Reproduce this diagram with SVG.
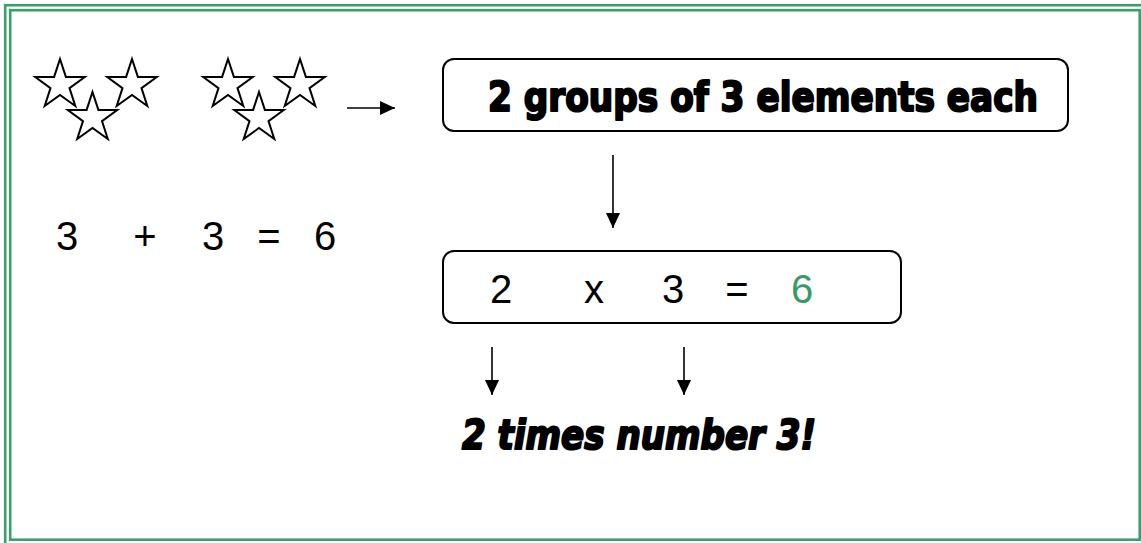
<svg xmlns="http://www.w3.org/2000/svg" width="1141" height="543" viewBox="0 0 1141 543">
<style>
.frame{fill:none;stroke:#3d9d6d;stroke-width:2.6}
.star{fill:#fff;stroke:#000;stroke-width:2;stroke-linejoin:miter}
.box{fill:#fff;stroke:#000;stroke-width:2}
.conn{stroke:#000;stroke-width:1.6;fill:none}
.math{font-family:"Liberation Sans",Arial,sans-serif;font-size:40px;fill:#000;text-anchor:middle}
.comic{font-family:"DejaVu Sans","Liberation Sans",sans-serif;font-weight:bold;font-size:40px;fill:#000;stroke:#000;stroke-width:2.2;stroke-linejoin:round}
</style>
<defs>
<path id="star" d="M0,-26 L5.88,-8.09 L24.73,-8.03 L9.51,3.09 L15.28,21.03 L0,10 L-15.28,21.03 L-9.51,3.09 L-24.73,-8.03 L-5.88,-8.09 Z"/>
<marker id="ah" markerUnits="userSpaceOnUse" markerWidth="16" markerHeight="16" viewBox="0 0 16 16" refX="15" refY="8" orient="auto">
<path d="M0,1 L15,8 L0,15 Z" fill="#000"/>
</marker>
</defs>
<rect width="1141" height="543" fill="#fff"/>
<g id="frame">
<rect class="frame" x="5.2" y="5.2" width="1145" height="545"/>
<rect class="frame" x="10.2" y="10.2" width="1129.5" height="529.5"/>
</g>
<g id="stars">
<use href="#star" class="star" x="60" y="85"/>
<use href="#star" class="star" x="132" y="85"/>
<use href="#star" class="star" x="92.5" y="118"/>
<use href="#star" class="star" x="228" y="85"/>
<use href="#star" class="star" x="300" y="85"/>
<use href="#star" class="star" x="259" y="118"/>
</g>
<g id="sum">
<text class="math" x="67" y="250" font-size="37">3</text>
<text class="math" x="145" y="250" font-size="37">+</text>
<text class="math" x="213" y="250" font-size="37">3</text>
<text class="math" x="269" y="250" font-size="37">=</text>
<text class="math" x="325" y="250" font-size="37">6</text>
</g>
<g id="groups">
<rect class="box" x="443" y="59" width="625" height="72" rx="11"/>
<text class="comic" x="488" y="111" textLength="550" lengthAdjust="spacingAndGlyphs">2 groups of 3 elements each</text>
</g>
<g id="product">
<rect class="box" x="443" y="251" width="458" height="72" rx="11"/>
<text class="math" x="501" y="303" font-size="42">2</text>
<text class="math" x="594" y="303" font-size="42">x</text>
<text class="math" x="673" y="303" font-size="42">3</text>
<text class="math" x="737" y="303" font-size="42">=</text>
<text class="math" x="802" y="303" font-size="42" style="fill:#3a9a66">6</text>
</g>
<g id="meaning">
<text class="comic" x="462" y="449" font-style="italic" textLength="354" lengthAdjust="spacingAndGlyphs">2 times number 3!</text>
</g>
<g id="connectors">
<line class="conn" x1="347" y1="108" x2="395" y2="108" marker-end="url(#ah)"/>
<line class="conn" x1="613" y1="155" x2="613" y2="228" marker-end="url(#ah)"/>
<line class="conn" x1="492" y1="347" x2="492" y2="395" marker-end="url(#ah)"/>
<line class="conn" x1="684" y1="347" x2="684" y2="395" marker-end="url(#ah)"/>
</g>
</svg>
